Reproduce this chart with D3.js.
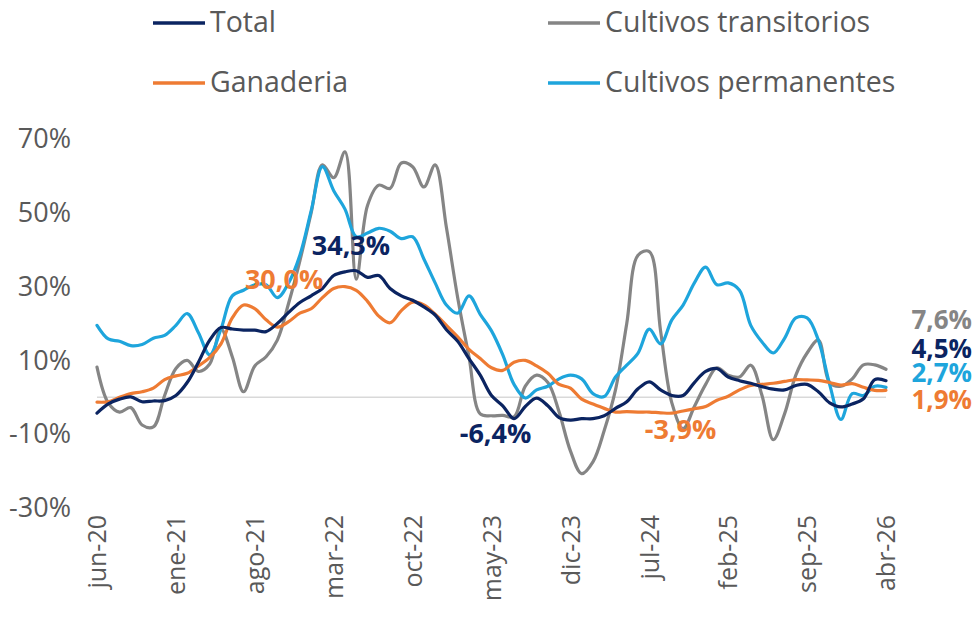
<!DOCTYPE html>
<html>
<head>
<meta charset="utf-8">
<script src="https://cdn.jsdelivr.net/npm/d3@7"></script>
<style>
  html, body { margin: 0; padding: 0; background: #fff; }
  svg { display: block; }
  text { font-family: "Open Sans", "DejaVu Sans", sans-serif; }
</style>
</head>
<body>
<svg id="chart" width="976" height="627"></svg>
<script>
// ---------- DATA ----------
const months = [
  "jun-20","jul-20","ago-20","sep-20","oct-20","nov-20","dic-20",
  "ene-21","feb-21","mar-21","abr-21","may-21","jun-21","jul-21",
  "ago-21","sep-21","oct-21","nov-21","dic-21","ene-22","feb-22",
  "mar-22","abr-22","may-22","jun-22","jul-22","ago-22","sep-22",
  "oct-22","nov-22","dic-22","ene-23","feb-23","mar-23","abr-23",
  "may-23","jun-23","jul-23","ago-23","sep-23","oct-23","nov-23",
  "dic-23","ene-24","feb-24","mar-24","abr-24","may-24","jun-24",
  "jul-24","ago-24","sep-24","oct-24","nov-24","dic-24","ene-25",
  "feb-25","mar-25","abr-25","may-25","jun-25","jul-25","ago-25",
  "sep-25","oct-25","nov-25","dic-25","ene-26","feb-26","mar-26",
  "abr-26"
];
const tickLabels = ["jun-20","ene-21","ago-21","mar-22","oct-22","may-23","dic-23","jul-24","feb-25","sep-25","abr-26"];
const yTicks = [70, 50, 30, 10, -10, -30];

const total = [
  -4.3,-1.8,-0.5,0.1,-1.2,-1.0,-0.9,
  0.5,4.0,9.5,15.5,18.9,18.5,18.2,
  18.2,17.8,20.0,23.0,25.7,27.5,29.5,
  33.0,34.0,34.3,32.5,33.0,29.5,27.5,
  26.3,24.5,22.3,18.3,15.2,10.5,6.0,
  0.5,-2.3,-5.8,-2.5,-0.2,-2.3,-5.5,
  -6.2,-5.8,-5.8,-5.0,-3.0,-1.2,2.3,
  4.2,2.0,0.5,0.5,4.0,7.0,7.8,
  5.5,4.5,3.8,2.9,2.2,2.0,3.2,
  3.5,1.5,-1.5,-2.6,-1.8,-0.4,4.8,
  4.5
];
const transitorios = [
  8.2,-1.5,-4.0,-2.8,-7.5,-8.0,0.5,
  7.8,10.0,7.0,9.0,18.5,11.0,1.5,
  8.5,11.0,15.5,25.5,37.0,50.0,63.0,
  59.5,66.5,32.0,52.0,57.5,56.6,63.5,
  62.5,57.0,63.0,46.0,27.0,11.0,-4.5,
  -5.0,-4.9,-5.3,3.0,6.0,4.0,-4.0,
  -14.5,-20.7,-17.5,-9.0,2.0,20.0,38.5,
  39.5,18.0,-1.5,-8.5,-2.5,3.5,8.0,
  6.0,5.5,8.7,0.5,-11.5,-4.5,6.0,
  12.0,15.5,4.0,3.0,5.0,8.8,8.8,
  7.6
];
const ganaderia = [
  -1.3,-1.2,0.0,1.0,1.5,2.5,4.8,
  5.8,6.5,8.5,10.8,14.5,21.5,25.0,
  24.0,21.0,19.0,20.5,22.8,24.0,27.0,
  29.5,30.0,29.0,26.0,22.0,20.2,23.5,
  25.8,25.0,22.5,19.5,16.4,13.0,10.5,
  8.0,7.3,9.5,10.0,8.5,6.5,3.5,
  2.5,-0.5,-1.8,-3.0,-4.0,-3.9,-4.0,
  -4.0,-4.2,-4.3,-3.7,-3.1,-2.5,-0.8,
  0.3,2.0,3.2,3.5,3.8,4.3,4.8,
  4.7,4.6,4.0,3.3,3.7,2.7,1.9,
  1.9
];
const permanentes = [
  19.5,15.8,15.2,14.0,14.3,16.0,16.8,
  19.5,22.7,17.5,11.5,18.5,27.5,29.0,
  30.5,30.5,27.0,31.0,38.5,50.5,62.5,
  56.0,51.0,43.5,44.5,45.8,45.0,43.0,
  43.5,37.5,31.0,25.0,22.8,27.5,22.5,
  18.0,11.5,3.5,-0.2,2.0,3.0,5.0,
  6.0,5.0,1.0,0.2,5.5,8.7,12.0,
  18.5,14.5,21.0,25.0,31.0,35.3,30.5,
  31.0,29.0,19.5,15.0,12.0,16.0,21.5,
  21.5,15.5,3.5,-6.0,1.0,0.5,3.0,
  2.7
];

const seriesNames = ["Total","Cultivos transitorios","Ganaderia","Cultivos permanentes"];
const seriesColors = ["#0b2461","#858585","#ee7b33","#1ea5dc"];

const pointLabels = [
  {series:"Total", text:"34,3%", x:"abr-22", dx:6, y:248},
  {series:"Ganaderia", text:"30,0%", x:"sep-21", dx:18, y:282},
  {series:"Total", text:"-6,4%", x:"may-23", dx:4, y:436},
  {series:"Ganaderia", text:"-3,9%", x:"ago-24", dx:20, y:432}
];
const endLabels = [
  {series:"Cultivos transitorios", text:"7,6%", y:322},
  {series:"Total", text:"4,5%", y:351},
  {series:"Cultivos permanentes", text:"2,7%", y:375},
  {series:"Ganaderia", text:"1,9%", y:402}
];

// ---------- CHART ----------
const svg = d3.select("#chart");
const colorOf = d3.scaleOrdinal(seriesNames, seriesColors);
const valuesOf = {
  "Total": total,
  "Cultivos transitorios": transitorios,
  "Ganaderia": ganaderia,
  "Cultivos permanentes": permanentes
};

const x = d3.scalePoint(months, [97, 886]);
const y = d3.scaleLinear([-30, 70], [508, 139]);

// zero line
svg.append("line")
  .attr("x1", x(months[0])).attr("x2", x(months[months.length-1]))
  .attr("y1", y(0)).attr("y2", y(0))
  .attr("stroke", "#d9d9d9").attr("stroke-width", 1.5);

// y axis
const yAxis = svg.append("g")
  .attr("transform", "translate(71,0)")
  .call(d3.axisLeft(y).tickValues(yTicks).tickSize(0).tickPadding(0).tickFormat(d => d + "%"));
yAxis.select(".domain").remove();
yAxis.selectAll("text")
  .attr("fill", "#595959").style("font-size", "27px")
  .style("font-family", "'Open Sans', sans-serif");

// x axis
const xAxis = svg.append("g")
  .attr("transform", "translate(0,515)")
  .call(d3.axisBottom(x).tickValues(tickLabels).tickSize(0).tickPadding(0));
xAxis.select(".domain").remove();
xAxis.selectAll("text")
  .attr("fill", "#595959").style("font-size", "25px")
  .style("font-family", "'Open Sans', sans-serif")
  .attr("text-anchor", "end")
  .attr("dy", "0.35em")
  .attr("transform", "rotate(-90)")
  .attr("x", 0).attr("y", 0);

// lines
const line = d3.line()
  .x((d, i) => x(months[i]))
  .y(d => y(d))
  .curve(d3.curveCatmullRom.alpha(0.5));

const drawOrder = ["Cultivos transitorios","Cultivos permanentes","Ganaderia","Total"];
drawOrder.forEach(name => {
  svg.append("path")
    .datum(valuesOf[name])
    .attr("fill", "none")
    .attr("stroke", colorOf(name))
    .attr("stroke-width", 3.2)
    .attr("stroke-linejoin", "round")
    .attr("stroke-linecap", "round")
    .attr("d", line);
});

// point labels
pointLabels.forEach(l => {
  svg.append("text")
    .attr("x", x(l.x) + l.dx)
    .attr("y", l.y)
    .attr("text-anchor", "middle")
    .attr("dominant-baseline", "middle")
    .attr("fill", colorOf(l.series))
    .style("font-size", "27px").style("font-weight", "700")
    .text(l.text);
});

// end labels
endLabels.forEach(l => {
  svg.append("text")
    .attr("x", 972)
    .attr("y", l.y)
    .attr("text-anchor", "end")
    .attr("dominant-baseline", "middle")
    .attr("fill", colorOf(l.series))
    .style("font-size", "26px").style("font-weight", "700")
    .text(l.text);
});

// legend
const legendPos = [
  {name:"Total", x:153, y:23},
  {name:"Cultivos transitorios", x:548, y:23},
  {name:"Ganaderia", x:153, y:83},
  {name:"Cultivos permanentes", x:548, y:83}
];
legendPos.forEach(p => {
  const g = svg.append("g").attr("transform", `translate(${p.x},${p.y})`);
  g.append("line").attr("x1", 0).attr("x2", 52).attr("y1", 0).attr("y2", 0)
    .attr("stroke", colorOf(p.name)).attr("stroke-width", 3.5);
  g.append("text").attr("x", 57).attr("y", 1)
    .attr("dominant-baseline", "middle")
    .attr("fill", "#595959")
    .style("font-size", "28.5px")
    .text(p.name);
});
</script>
</body>
</html>
